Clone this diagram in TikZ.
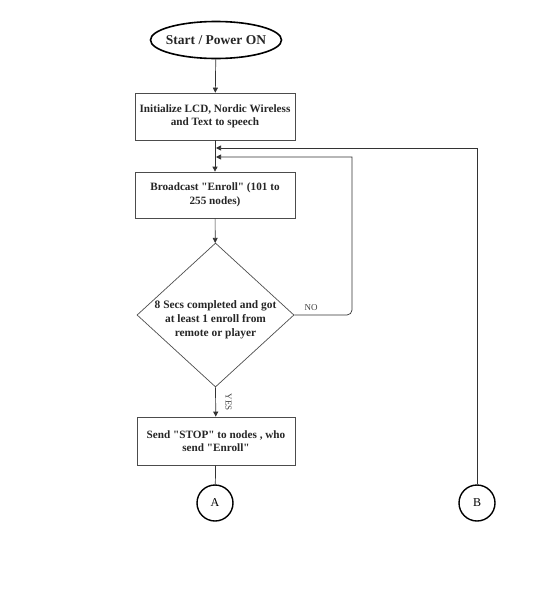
\documentclass[tikz,border=0pt]{standalone}
\usepackage{fontspec}
\setmainfont{Liberation Serif}[Ligatures=TeXOff]
\usetikzlibrary{shapes.geometric,arrows.meta}
\begin{document}
\begin{tikzpicture}[x=1pt,y=-1pt,
  line/.style={draw=black!80, line width=0.7pt},
  arr/.style={line, -{Triangle[length=5pt,width=5pt]}},
  proc/.style={draw=black!70, line width=0.7pt, minimum width=160pt, inner sep=2pt, align=center, font=\bfseries\fontsize{11.2}{13.5}\selectfont, text=black!85},
  term/.style={draw=black, ellipse, line width=1.6pt, minimum width=131pt, minimum height=37pt, inner xsep=-10pt, inner ysep=0pt, font=\bfseries\fontsize{13.5}{15}\selectfont, text=black!85},
  decision/.style={draw=black!70, line width=0.7pt, diamond, inner sep=0pt, minimum width=157pt, minimum height=144pt},
  dtext/.style={align=center, font=\bfseries\fontsize{11.4}{14}\selectfont, text=black!85},
  conn/.style={draw=black, circle, line width=1.4pt, minimum size=36pt, inner sep=0pt, font=\fontsize{12}{14}\selectfont},
  lab/.style={font=\fontsize{9}{10}\selectfont, text=black!75}
]
\useasboundingbox (0,0) rectangle (535,600);
\node[term] (start) at (216,40) {Start / Power ON};
\node[proc, minimum height=47pt] (init) at (215,116.5) {Initialize LCD, Nordic Wireless\\and Text to speech};
\node[proc, minimum height=46pt] (bcast) at (215,195) {Broadcast "Enroll" (101 to\\255 nodes)};
\node[decision] (dec) at (215.5,315) {};
\node[dtext] (dectext) at (215.5,320) {8 Secs completed and got\\at least 1 enroll from\\remote or player};
\node[proc, minimum height=48pt, minimum width=158pt] (stop) at (216,441) {Send "STOP" to nodes , who\\send "Enroll"};
\node[conn] (A) at (215,503) {A};
\node[conn] (B) at (477,503) {B};
\coordinate (m2) at (216,148);
\coordinate (m1) at (216,157);
\coordinate (c1) at (352,315);
\coordinate (c2) at (352,157);
\coordinate (c3) at (477,148);

\draw[arr] (start) -- (init);
\draw[arr] (init) -- (bcast);
\draw[arr] (bcast) -- (dec);
\draw[arr] (dec.south) -- node[lab, rotate=-90, yshift=13pt] (yes) {YES} (stop);
\draw[line] (stop) -- (A);
\draw[arr] (dec.east) [rounded corners=5pt] -- (c1) [sharp corners] -- (c2) -- (m1);
\draw[arr] (B) -- (c3) -- (m2);
\node[lab] (no) at (311,308) {NO};
\end{tikzpicture}
\end{document}
